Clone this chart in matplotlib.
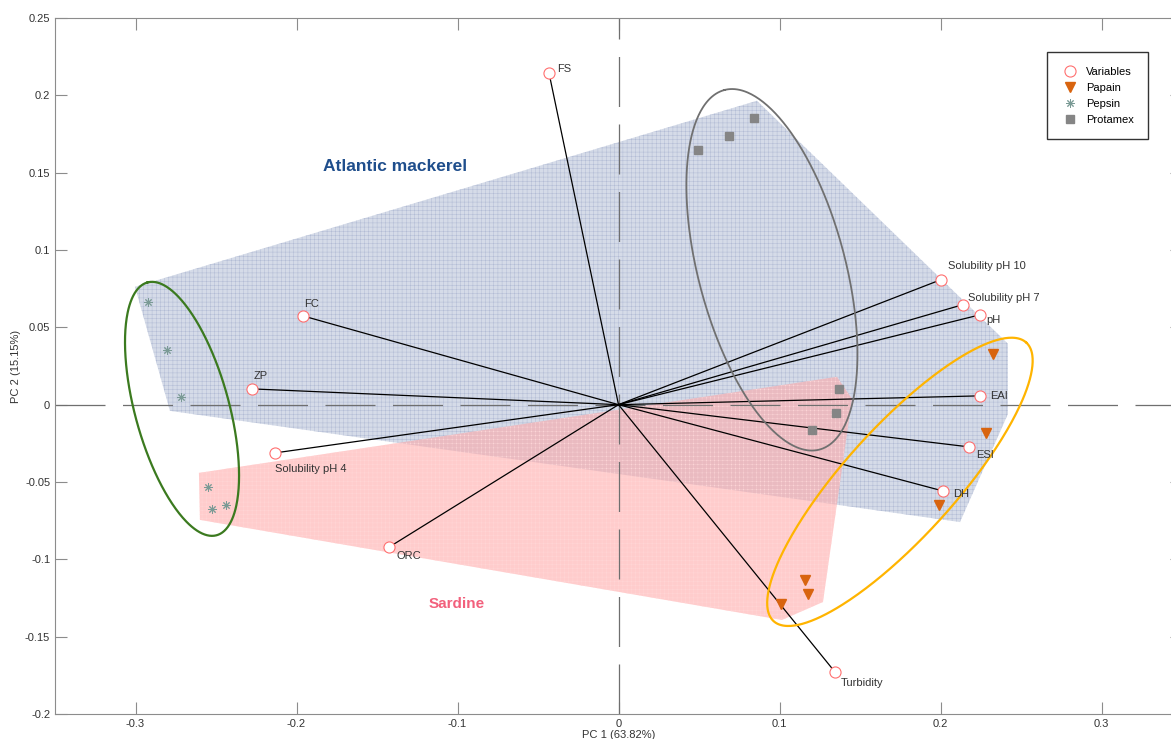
import numpy as np
import matplotlib
matplotlib.use("Agg")
import matplotlib.pyplot as plt
from matplotlib.patches import Polygon
from matplotlib.ticker import FormatStrFormatter

plt.rcParams["font.family"] = ["Liberation Sans", "DejaVu Sans"]
plt.rcParams["hatch.linewidth"] = 0.35

# variable loadings
var_names = ["FS", "FC", "ZP", "Solubility pH 4", "ORC", "Turbidity",
             "Solubility pH 10", "Solubility pH 7", "pH", "EAI", "ESI", "DH"]
var_pc1 = [-0.0432, -0.196, -0.2276, -0.2134, -0.1425, 0.1345,
           0.2, 0.2137, 0.2245, 0.2245, 0.2177, 0.2015]
var_pc2 = [0.2146, 0.0574, 0.0102, -0.0312, -0.0921, -0.1729,
           0.0807, 0.0646, 0.0581, 0.0057, -0.0273, -0.0558]

# sample scores per enzyme
papain_pc1 = [0.2326, 0.2283, 0.1991, 0.1159, 0.1177, 0.1009]
papain_pc2 = [0.0329, -0.0183, -0.0646, -0.1131, -0.1221, -0.1292]
pepsin_pc1 = [-0.2924, -0.2806, -0.2717, -0.2548, -0.2523, -0.2438]
pepsin_pc2 = [0.0663, 0.0354, 0.0052, -0.0534, -0.0674, -0.0648]
protamex_pc1 = [0.0492, 0.0688, 0.0843, 0.1368, 0.1349, 0.1204]
protamex_pc2 = [0.1648, 0.1734, 0.1853, 0.0102, -0.0053, -0.0161]

# species areas
mackerel_pc1 = [-0.3003, 0.0860, 0.2419, 0.2419, 0.2121, -0.2786]
mackerel_pc2 = [0.0762, 0.1965, 0.0394, -0.0060, -0.0759, -0.0040]
sardine_pc1 = [-0.2606, 0.1357, 0.1450, 0.1270, 0.1015, -0.2600]
sardine_pc2 = [-0.0441, 0.0180, 0.0038, -0.1276, -0.1392, -0.0745]

# enzyme group ellipses: centre, semi-axes (in PC1 units), angle
ell_cx = [-0.2711, 0.0953, 0.1748]
ell_cy = [-0.0027, 0.0872, -0.0499]
ell_a = [0.0814, 0.1155, 0.1168]
ell_b = [0.0292, 0.0457, 0.0342]
ell_angle = [105.3, 104.8, 47.8]
ell_colors = ["#3b7a1f", "#707070", "#ffb400"]
ell_widths = [1.6, 1.3, 1.6]

# label offsets in pixels (dx, dy)
label_offsets = {
    "FS": (8, 4), "FC": (1, 12), "ZP": (2, 12.5), "Solubility pH 4": (0, -16),
    "ORC": (7, -9), "Turbidity": (6, -11), "Solubility pH 10": (7, 14),
    "Solubility pH 7": (5, 7), "pH": (6, -5), "EAI": (10, 0),
    "ESI": (7, -8), "DH": (10, -3.5),
}

fig = plt.figure(figsize=(11.71, 7.39), dpi=100)
ax = fig.add_axes([55 / 1171, 25 / 739, 1127 / 1171, 696 / 739])
ax.set_xlim(-0.35, 0.35)
ax.set_ylim(-0.2, 0.25)

# filled areas
ax.add_patch(Polygon(np.column_stack([mackerel_pc1, mackerel_pc2]), closed=True,
                     facecolor="#d5dbe8", edgecolor="none", zorder=1))
ax.add_patch(Polygon(np.column_stack([mackerel_pc1, mackerel_pc2]), closed=True,
                     facecolor="none", edgecolor="#b2bcd5", lw=0, hatch="++++", zorder=1))
ax.add_patch(Polygon(np.column_stack([sardine_pc1, sardine_pc2]), closed=True,
                     facecolor="#ff9a9a", alpha=0.5, edgecolor="none", zorder=1.2))
ax.add_patch(Polygon(np.column_stack([sardine_pc1, sardine_pc2]), closed=True,
                     facecolor="none", edgecolor="#ffd6d6", lw=0, hatch="++++", zorder=1.2))

# dashed axes through origin
ax.axhline(0, color="#6f6f6f", lw=0.9, dashes=(40, 14), zorder=2)
ax.axvline(0, color="#6f6f6f", lw=0.9, dashes=(40, 14), zorder=2)

# loading vectors
for x, y in zip(var_pc1, var_pc2):
    ax.plot([0, x], [0, y], color="black", lw=0.9, zorder=3)

# ellipses
bb = ax.get_window_extent()
aspect = (bb.height / 0.45) / (bb.width / 0.7)
t = np.linspace(0, 2 * np.pi, 400)
for cx, cy, a, b, ang, col, lw in zip(ell_cx, ell_cy, ell_a, ell_b, ell_angle,
                                       ell_colors, ell_widths):
    th = np.deg2rad(ang)
    u, v = a * np.cos(t), b * np.sin(t)
    ex = cx + u * np.cos(th) - v * np.sin(th)
    ey = cy + (u * np.sin(th) + v * np.cos(th)) / aspect
    ax.plot(ex, ey, color=col, lw=lw, zorder=4)

# markers
ax.plot(var_pc1, var_pc2, "o", ms=8, mfc="white", mec="#ff6f6f", mew=0.8,
        ls="none", zorder=5, label="Variables")
ax.plot(papain_pc1, papain_pc2, "v", ms=6.5, color="#d8640f", ls="none", zorder=5,
        label="Papain")
ax.plot(pepsin_pc1, pepsin_pc2, marker=(8, 2, 0), ms=6, color="#7a9a95", mew=0.7,
        ls="none", zorder=5, label="Pepsin")
ax.plot(protamex_pc1, protamex_pc2, "s", ms=5.5, color="#858585", ls="none", zorder=5,
        label="Protamex")

for name, x, y in zip(var_names, var_pc1, var_pc2):
    dx, dy = label_offsets[name]
    ax.annotate(name, (x, y), xytext=(dx * 0.72, dy * 0.72), textcoords="offset points",
                ha="left", va="center", fontsize=8, color="#333333", zorder=6)

ax.text(-0.1388, 0.1538, "Atlantic mackerel", fontsize=12.5, fontweight="bold",
        color="#1f4e8c", ha="center", va="center", zorder=6)
ax.text(-0.1003, -0.1292, "Sardine", fontsize=11, fontweight="bold",
        color="#f2607c", ha="center", va="center", zorder=6)

ax.set_xticks([-0.3, -0.2, -0.1, 0, 0.1, 0.2, 0.3])
ax.set_yticks([-0.2, -0.15, -0.1, -0.05, 0, 0.05, 0.1, 0.15, 0.2, 0.25])
ax.xaxis.set_major_formatter(FormatStrFormatter("%g"))
ax.yaxis.set_major_formatter(FormatStrFormatter("%g"))
ax.tick_params(direction="in", length=8.6, width=0.8, color="#8c8c8c",
               top=True, right=True, labelsize=8, labelcolor="#333333")
for sp in ax.spines.values():
    sp.set_color("#8c8c8c")
    sp.set_linewidth(0.8)

ax.set_xlabel("PC 1 (63.82%)", fontsize=8, color="#333333", labelpad=1)
ax.set_ylabel("PC 2 (15.15%)", fontsize=8, color="#333333")
ax.yaxis.set_label_coords(-0.03, 0.5)

leg = ax.legend(loc="upper left", bbox_to_anchor=(0.880, 0.951), fontsize=8,
                frameon=True, fancybox=False, borderpad=1.3, handlelength=1.5,
                handletextpad=0.7, labelspacing=0.55, borderaxespad=0)
leg.get_frame().set_edgecolor("black")
leg.get_frame().set_linewidth(1.0)

fig.savefig("out.png", dpi=100)
